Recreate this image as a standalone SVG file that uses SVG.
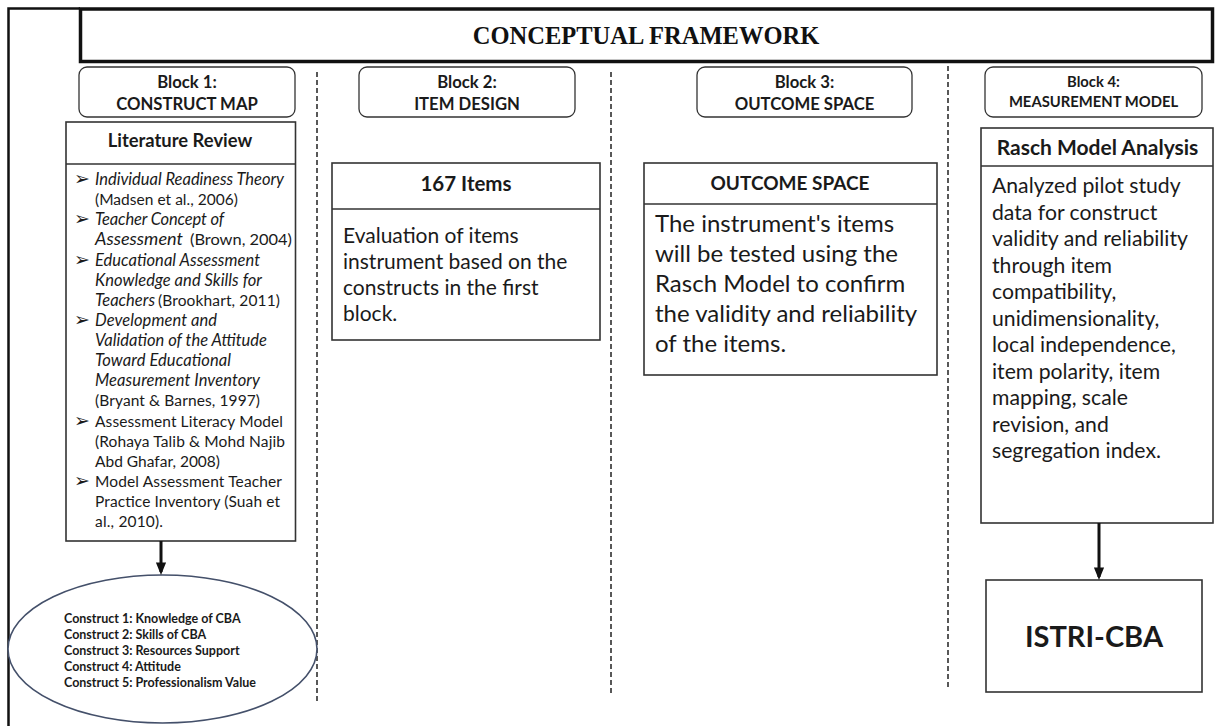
<svg xmlns="http://www.w3.org/2000/svg" width="1216" height="726" viewBox="0 0 1216 726">
<style>
  .frame{fill:none;stroke:#111;stroke-width:2.5}
  .title-box{fill:#fff;stroke:#111;stroke-width:3.5}
  .title{font-family:"Liberation Serif","Times New Roman",serif;font-weight:bold;font-size:24.5px;fill:#111}
  .hdr{fill:#fff;stroke:#333;stroke-width:1.3}
  .box{fill:#fff;stroke:#333;stroke-width:1.6}
  .div{stroke:#333;stroke-width:1.4}
  .sep{stroke:#222;stroke-width:1.5;stroke-dasharray:5 3;fill:none}
  .t{font-family:Lato,"Open Sans",sans-serif;fill:#1a1a1a}
  .b{font-weight:bold}
  .c{text-anchor:middle}
  .i{font-style:italic;font-size:16.5px}
  .bul{font-family:"DejaVu Sans",sans-serif;font-size:19px;fill:#1a1a1a}
  .ell{fill:#fff;stroke:#44506a;stroke-width:1.6}
  .arr{stroke:#111;stroke-width:3;fill:none}
</style>
<defs>
  <marker id="ah" markerWidth="4.2" markerHeight="3.4" refX="3.2" refY="1.7" orient="auto" markerUnits="strokeWidth">
    <path d="M0,0 L4.2,1.7 L0,3.4 Z" fill="#111"/>
  </marker>
</defs>

<g id="frame">
  <path class="frame" d="M8.5,726 L8.5,8.5 L80,8.5"/>
</g>

<g id="title">
  <rect class="title-box" x="80.5" y="9" width="1132" height="52.5"/>
  <text class="title" x="646" y="44" text-anchor="middle">CONCEPTUAL FRAMEWORK</text>
</g>

<g id="separators">
  <line class="sep" x1="317" y1="72" x2="317" y2="702"/>
  <line class="sep" x1="611" y1="72" x2="611" y2="695"/>
  <line class="sep" x1="948" y1="66" x2="948" y2="690"/>
</g>

<g id="block1-header">
  <rect class="hdr" x="79" y="67" width="216" height="50" rx="8"/>
  <text class="t b c" x="187" y="88" font-size="16.7">Block 1:</text>
  <text class="t b c" x="187" y="110" font-size="16.7">CONSTRUCT MAP</text>
</g>

<g id="block2-header">
  <rect class="hdr" x="359" y="67" width="216" height="50" rx="8"/>
  <text class="t b c" x="467" y="88" font-size="16.7">Block 2:</text>
  <text class="t b c" x="467" y="110" font-size="16.7">ITEM DESIGN</text>
</g>

<g id="block3-header">
  <rect class="hdr" x="697" y="67" width="215" height="50" rx="8"/>
  <text class="t b c" x="804.5" y="88" font-size="16.7">Block 3:</text>
  <text class="t b c" x="804.5" y="110" font-size="16.7">OUTCOME SPACE</text>
</g>

<g id="block4-header">
  <rect class="hdr" x="985" y="67" width="217" height="50" rx="8"/>
  <text class="t b c" x="1093.5" y="87" font-size="14.8">Block 4:</text>
  <text class="t b c" x="1093.5" y="107" font-size="14.8">MEASUREMENT MODEL</text>
</g>

<g id="literature-review">
  <rect class="box" x="66" y="122" width="229.5" height="419"/>
  <line class="div" x1="66" y1="164" x2="295.5" y2="164"/>
  <text class="t b c" x="180" y="147" font-size="18.4">Literature Review</text>
  <g class="t" font-size="15.5">
    <text class="bul" x="74" y="185">➢</text>
    <text x="95" y="185" class="i" textLength="189">Individual Readiness Theory</text>
    <text x="95" y="205" textLength="143">(Madsen et al., 2006)</text>
    <text class="bul" x="74" y="225">➢</text>
    <text x="95" y="225" class="i" textLength="129">Teacher Concept of</text>
    <text x="95" y="245" class="i" textLength="88" lengthAdjust="spacingAndGlyphs">Assessment</text>
    <text x="190" y="245" textLength="102" lengthAdjust="spacingAndGlyphs">(Brown, 2004)</text>
    <text class="bul" x="74" y="265.5">➢</text>
    <text x="95" y="265.5" class="i" textLength="165">Educational Assessment</text>
    <text x="95" y="285.5" class="i" textLength="167">Knowledge and Skills for</text>
    <text x="95" y="305.5" class="i" textLength="60">Teachers</text>
    <text x="158" y="305.5" textLength="122">(Brookhart, 2011)</text>
    <text class="bul" x="74" y="325.5">➢</text>
    <text x="95" y="325.5" class="i" textLength="122">Development and</text>
    <text x="95" y="345.5" class="i" textLength="172">Validation of the Attitude</text>
    <text x="95" y="366" class="i" textLength="136">Toward Educational</text>
    <text x="95" y="386" class="i" textLength="165">Measurement Inventory</text>
    <text x="95" y="406" textLength="165">(Bryant &amp; Barnes, 1997)</text>
    <text class="bul" x="74" y="426.5">➢</text>
    <text x="95" y="426.5" textLength="188">Assessment Literacy Model</text>
    <text x="95" y="446.5" textLength="190">(Rohaya Talib &amp; Mohd Najib</text>
    <text x="95" y="466.5" textLength="125">Abd Ghafar, 2008)</text>
    <text class="bul" x="74" y="486.5">➢</text>
    <text x="95" y="486.5" textLength="187">Model Assessment Teacher</text>
    <text x="95" y="506.5" textLength="185">Practice Inventory (Suah et</text>
    <text x="95" y="526.5" textLength="68">al., 2010).</text>
  </g>
</g>

<g id="constructs">
  <ellipse class="ell" cx="162.5" cy="649" rx="154.5" ry="74"/>
  <g class="t b" font-size="12.5">
    <text x="64" y="623">Construct 1: Knowledge of CBA</text>
    <text x="64" y="639">Construct 2: Skills of CBA</text>
    <text x="64" y="655">Construct 3: Resources Support</text>
    <text x="64" y="671">Construct 4: Attitude</text>
    <text x="64" y="687">Construct 5: Professionalism Value</text>
  </g>
</g>

<g id="items-167">
  <rect class="box" x="332" y="163" width="268" height="177"/>
  <line class="div" x1="332" y1="209" x2="600" y2="209"/>
  <text class="t b c" x="466" y="191" font-size="20.5">167 Items</text>
  <g class="t" font-size="21">
    <text x="343" y="243">Evaluation of items</text>
    <text x="343" y="269">instrument based on the</text>
    <text x="343" y="295">constructs in the first</text>
    <text x="343" y="321">block.</text>
  </g>
</g>

<g id="outcome-space">
  <rect class="box" x="644" y="163" width="293" height="212"/>
  <line class="div" x1="644" y1="204" x2="937" y2="204"/>
  <text class="t b c" x="790" y="190" font-size="19">OUTCOME SPACE</text>
  <g class="t" font-size="24">
    <text x="655" y="232">The instrument's items</text>
    <text x="655" y="262">will be tested using the</text>
    <text x="655" y="292">Rasch Model to confirm</text>
    <text x="655" y="322">the validity and reliability</text>
    <text x="655" y="352">of the items.</text>
  </g>
</g>

<g id="rasch-analysis">
  <rect class="box" x="981" y="128" width="232" height="395"/>
  <line class="div" x1="981" y1="166" x2="1213" y2="166"/>
  <text class="t b c" x="1097.5" y="155" font-size="21">Rasch Model Analysis</text>
  <g class="t" font-size="21.2">
    <text x="992" y="193">Analyzed pilot study</text>
    <text x="992" y="219.5">data for construct</text>
    <text x="992" y="246">validity and reliability</text>
    <text x="992" y="272.5">through item</text>
    <text x="992" y="299">compatibility,</text>
    <text x="992" y="325.5">unidimensionality,</text>
    <text x="992" y="352">local independence,</text>
    <text x="992" y="378.5">item polarity, item</text>
    <text x="992" y="405">mapping, scale</text>
    <text x="992" y="431.5">revision, and</text>
    <text x="992" y="458">segregation index.</text>
  </g>
</g>

<g id="istri-cba">
  <rect class="box" x="986" y="580" width="216" height="112"/>
  <text class="t b c" x="1094" y="647" font-size="29">ISTRI-CBA</text>
</g>

<g id="connectors">
  <line class="arr" x1="161" y1="541" x2="161" y2="572" marker-end="url(#ah)"/>
  <line class="arr" x1="1099" y1="523" x2="1099" y2="577" marker-end="url(#ah)"/>
</g>
</svg>
